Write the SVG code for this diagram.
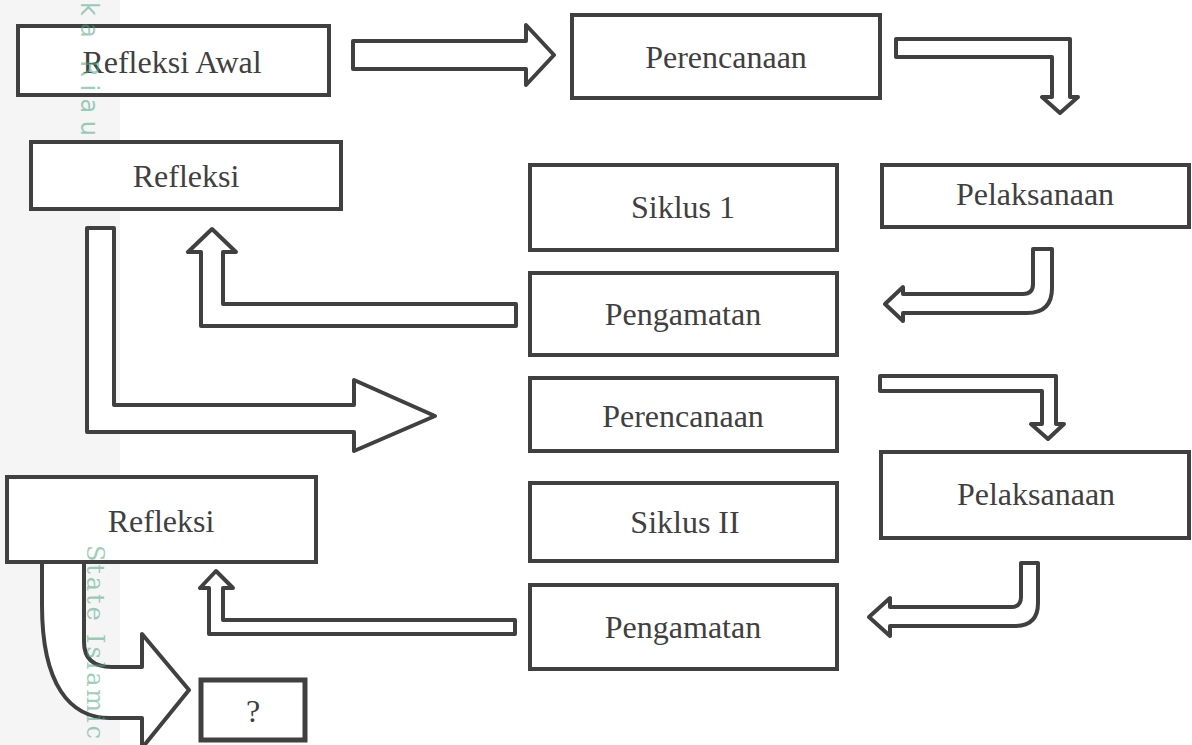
<svg xmlns="http://www.w3.org/2000/svg" width="1192" height="745" viewBox="0 0 1192 745">
<defs>
<style>
.box{fill:#ffffff;stroke:#404040;stroke-width:4}
.arr{fill:#ffffff;stroke:#404040;stroke-width:4;stroke-linejoin:round}
.lbl{font-family:"Liberation Serif","Times New Roman",serif;font-size:32px;fill:#404040;text-anchor:middle}
.wm{font-family:"DejaVu Sans",sans-serif;font-size:24px;fill:#4fa883;opacity:0.55}
.wms{font-family:"DejaVu Serif",serif;font-size:24px;fill:#4fa883;opacity:0.55}
</style>
</defs>
<rect x="0" y="0" width="1192" height="745" fill="#ffffff"/>
<g id="watermark-bg" fill="#f5f5f5">
<rect x="0" y="0" width="120" height="745"/>
</g>
<g id="connectors">
<path class="arr" d="M353,41 H526 V25 L554,55 L526,85 V69 H353 Z"/>
<path class="arr" d="M896,39 H1070 V97 H1078 L1060,113 L1042,97 H1052 V57 H896 Z"/>
<path class="arr" d="M1033,249 H1052 V288 Q1052,313 1027,313 H903 V321 L885,304 L903,287 V294 H1023 Q1033,294 1033,284 Z"/>
<path class="arr" d="M516,304 H223 V252 H236 L212,229 L188,252 H201 V326 H516 Z"/>
<path class="arr" d="M87,228 H114 V405 H354 V380 L435,416 L354,451 V432 H87 Z"/>
<path class="arr" d="M880,376 H1056 V424 H1064 L1048,439 L1031,424 H1042 V391 H880 Z"/>
<path class="arr" d="M1021,563 H1038 V603 Q1038,626 1015,626 H890 V636 L869,617 L890,598 V607 H1011 Q1021,607 1021,597 Z"/>
<path class="arr" d="M515,620 H223 V588 H233 L216,571 L200,588 H209 V634 H515 Z"/>
</g>
<g id="n-refleksi-awal"><rect class="box" x="18" y="26" width="311" height="69"/><text class="lbl" x="172" y="73">Refleksi Awal</text></g>
<g id="n-perencanaan-1"><rect class="box" x="572" y="15" width="308" height="83"/><text class="lbl" x="726" y="68">Perencanaan</text></g>
<g id="n-refleksi-1"><rect class="box" x="31" y="142" width="310" height="67"/><text class="lbl" x="186" y="187">Refleksi</text></g>
<g id="n-siklus-1"><rect class="box" x="530" y="165" width="307" height="85"/><text class="lbl" x="683" y="218">Siklus 1</text></g>
<g id="n-pelaksanaan-1"><rect class="box" x="882" y="165" width="307" height="62"/><text class="lbl" x="1035" y="205">Pelaksanaan</text></g>
<g id="n-pengamatan-1"><rect class="box" x="530" y="273" width="307" height="82"/><text class="lbl" x="683" y="325">Pengamatan</text></g>
<g id="n-perencanaan-2"><rect class="box" x="530" y="378" width="307" height="73"/><text class="lbl" x="683" y="427">Perencanaan</text></g>
<g id="n-pelaksanaan-2"><rect class="box" x="881" y="452" width="308" height="86"/><text class="lbl" x="1036" y="505">Pelaksanaan</text></g>
<g id="n-refleksi-2"><rect class="box" x="7" y="477" width="309" height="85"/><text class="lbl" x="161" y="532">Refleksi</text></g>
<g id="n-siklus-2"><rect class="box" x="530" y="483" width="307" height="78"/><text class="lbl" x="685" y="533">Siklus II</text></g>
<g id="n-pengamatan-2"><rect class="box" x="530" y="585" width="307" height="84"/><text class="lbl" x="683" y="638">Pengamatan</text></g>
<g id="connector-final">
<path class="arr" d="M42,562 H84 V642 Q84,667 112,667 H142 V634 L189,690 L142,748 V718 H110 C70,718 42,685 42,605 Z"/>
</g>
<g id="n-question"><rect class="box" x="201" y="680" width="104" height="60" style="stroke-width:5"/><text class="lbl" x="253" y="722">?</text></g>
<g id="watermark-text">
<text class="wm" transform="translate(81,2) rotate(90)" textLength="134" lengthAdjust="spacing">ka Riau</text>
<text class="wms" transform="translate(87,545) rotate(90)" textLength="194" lengthAdjust="spacing">State Islamic</text>
</g>
</svg>
